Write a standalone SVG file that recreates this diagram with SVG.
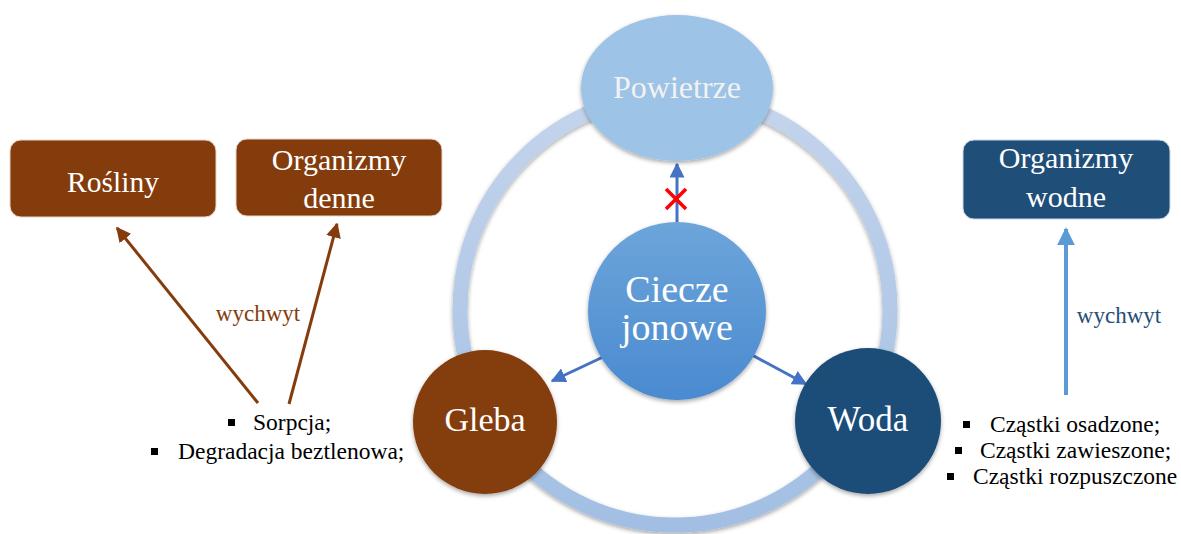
<svg xmlns="http://www.w3.org/2000/svg" width="1181" height="534" viewBox="0 0 1181 534">
<defs>
<style>
.t{font-family:"Liberation Serif","Times New Roman",serif;text-anchor:middle}
.w{fill:#ffffff}
.b{fill:#000000;font-size:23.5px}
.sq{fill:#000000}
</style>
<linearGradient id="ringG" x1="0" y1="0" x2="0" y2="1">
<stop offset="0" stop-color="#c4d4ec"/>
<stop offset="1" stop-color="#a2bfe3"/>
</linearGradient>
<linearGradient id="cjG" x1="0" y1="0" x2="0" y2="1">
<stop offset="0" stop-color="#6da5da"/>
<stop offset="1" stop-color="#4a8ad0"/>
</linearGradient>
<filter id="sh" x="-20%" y="-20%" width="140%" height="140%">
<feDropShadow dx="0" dy="2" stdDeviation="2" flood-color="#000" flood-opacity="0.35"/>
</filter>
<marker id="ab" viewBox="0 0 10 10" refX="9" refY="5" markerUnits="userSpaceOnUse" markerWidth="15" markerHeight="15" orient="auto">
<path d="M0,0 L10,5 L0,10 Z" fill="#4472c4"/>
</marker>
<marker id="abr" viewBox="0 0 10 10" refX="9" refY="5" markerUnits="userSpaceOnUse" markerWidth="15" markerHeight="15" orient="auto">
<path d="M0,0 L10,5 L0,10 Z" fill="#843c0c"/>
</marker>
<marker id="alb" viewBox="0 0 10 10" refX="9" refY="5" markerUnits="userSpaceOnUse" markerWidth="18" markerHeight="18" orient="auto">
<path d="M0,0 L10,5 L0,10 Z" fill="#5b9bd5"/>
</marker>
</defs>
<rect width="1181" height="534" fill="#ffffff"/>

<g id="ring">
<circle cx="675" cy="310" r="215" fill="none" stroke="url(#ringG)" stroke-width="15" filter="url(#sh)"/>
</g>

<g id="connectors">
<line x1="677" y1="222" x2="677" y2="164" stroke="#4472c4" stroke-width="3" marker-end="url(#ab)"/>
<line x1="603" y1="357" x2="552" y2="381" stroke="#4472c4" stroke-width="3" marker-end="url(#ab)"/>
<line x1="752" y1="355" x2="806" y2="384" stroke="#4472c4" stroke-width="3" marker-end="url(#ab)"/>
<line x1="258" y1="403" x2="117" y2="228" stroke="#843c0c" stroke-width="3" marker-end="url(#abr)"/>
<line x1="289" y1="404" x2="337" y2="224" stroke="#843c0c" stroke-width="3" marker-end="url(#abr)"/>
<line x1="1066" y1="395" x2="1066" y2="229" stroke="#5b9bd5" stroke-width="4" marker-end="url(#alb)"/>
<g id="cross" stroke="#ff0000" stroke-width="3.5">
<line x1="666" y1="189" x2="686" y2="209"/>
<line x1="686" y1="189" x2="666" y2="209"/>
</g>
<text class="t" x="258" y="321" font-size="23" fill="#843c0c">wychwyt</text>
<text class="t" x="1119" y="323" font-size="23" fill="#1f4e79">wychwyt</text>
</g>

<g id="powietrze">
<ellipse cx="677" cy="88" rx="96" ry="73" fill="#9dc3e6" filter="url(#sh)"/>
<text class="t" x="677" y="98" font-size="32" fill="#f2f2f2">Powietrze</text>
</g>

<g id="ciecze">
<circle cx="677" cy="311" r="89" fill="url(#cjG)" filter="url(#sh)"/>
<text class="t w" x="677" y="302" font-size="38">Ciecze</text>
<text class="t w" x="677" y="340" font-size="38">jonowe</text>
</g>

<g id="gleba">
<circle cx="485" cy="422" r="72" fill="#843c0c" filter="url(#sh)"/>
<text class="t w" x="485" y="431" font-size="34">Gleba</text>
</g>

<g id="woda">
<circle cx="868" cy="421" r="73" fill="#1f4e79" filter="url(#sh)"/>
<text class="t w" x="868" y="431" font-size="35">Woda</text>
</g>

<g id="rosliny">
<rect x="10" y="140" width="206" height="77" rx="11" fill="#843c0c" stroke="#e8d5c8" stroke-width="1"/>
<text class="t w" x="113" y="192" font-size="29.5">Rośliny</text>
</g>

<g id="organizmy-denne">
<rect x="236" y="139" width="206" height="77" rx="11" fill="#843c0c" stroke="#e8d5c8" stroke-width="1"/>
<text class="t w" x="339" y="170" font-size="30">Organizmy</text>
<text class="t w" x="339" y="208" font-size="30">denne</text>
</g>

<g id="organizmy-wodne">
<rect x="963" y="140" width="207" height="79" rx="11" fill="#1f4e79" stroke="#c8d6e6" stroke-width="1"/>
<text class="t w" x="1066" y="168" font-size="30">Organizmy</text>
<text class="t w" x="1066" y="207" font-size="30">wodne</text>
</g>

<g id="gleba-list">
<rect class="sq" x="228" y="419" width="7" height="7"/>
<text class="t b" x="253" y="430" style="text-anchor:start">Sorpcja;</text>
<rect class="sq" x="151" y="448" width="7" height="7"/>
<text class="t b" x="178" y="459" style="text-anchor:start">Degradacja beztlenowa;</text>
</g>

<g id="woda-list">
<rect class="sq" x="963" y="421" width="7" height="7"/>
<text class="t b" x="990" y="432" style="text-anchor:start">Cząstki osadzone;</text>
<rect class="sq" x="955" y="447" width="7" height="7"/>
<text class="t b" x="980" y="458" style="text-anchor:start">Cząstki zawieszone;</text>
<rect class="sq" x="947" y="473" width="7" height="7"/>
<text class="t b" x="973" y="484" style="text-anchor:start">Cząstki rozpuszczone</text>
</g>
</svg>
